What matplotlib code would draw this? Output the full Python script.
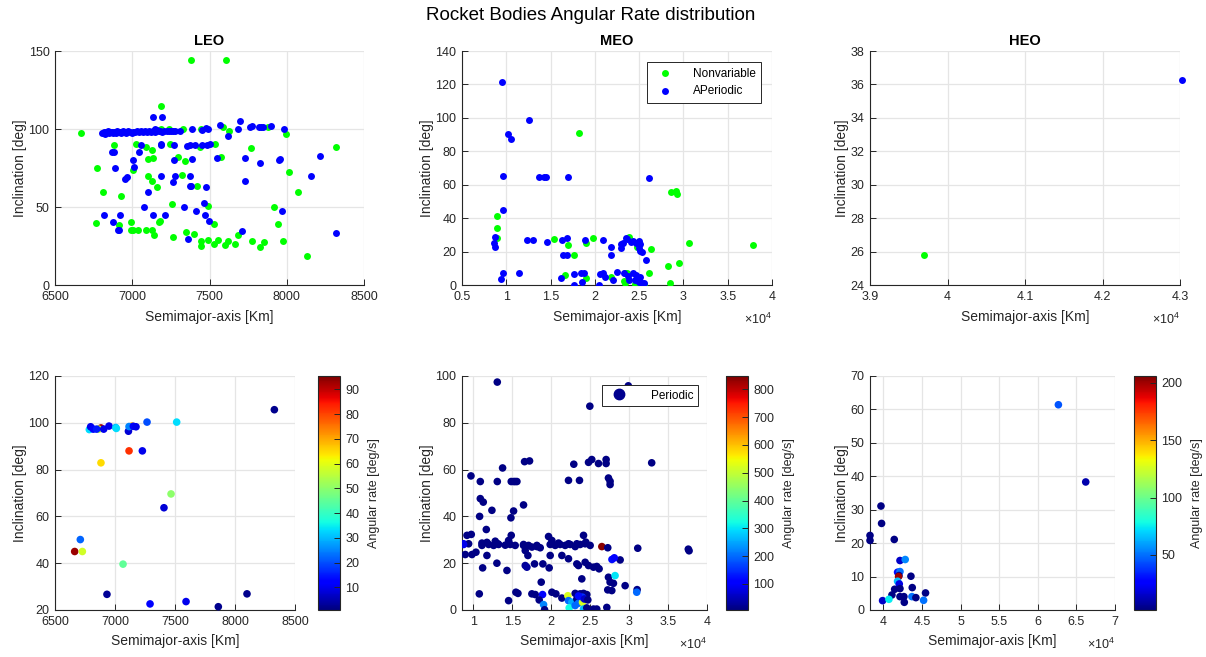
import matplotlib
matplotlib.use("Agg")
import matplotlib.pyplot as plt
from matplotlib.lines import Line2D
from matplotlib.ticker import FuncFormatter
import numpy as np

plt.rcParams["font.family"] = ["Liberation Sans", "DejaVu Sans"]
plt.rcParams["mathtext.fontset"] = "custom"
plt.rcParams["mathtext.rm"] = "Liberation Sans"
plt.rcParams["mathtext.it"] = "Liberation Sans:italic"

# ---------------- data: (semimajor axis [km], inclination [deg]) ----------------
LEO_NONVARIABLE = [
    (7380, 144.5), (7607, 144.5), (7188, 115.0), (6668, 97.2), (6770, 75.0), (6813, 59.6),
    (6765, 39.6), (6880, 89.8), (6925, 57.1), (6916, 38.2), (6990, 40.3), (6990, 35.4),
    (7007, 35.4), (7035, 35.4), (7007, 73.7), (7024, 90.2), (7087, 35.4), (7087, 88.7),
    (7104, 69.9), (7104, 80.6), (7126, 86.5), (7130, 35.4), (7136, 81.6), (7130, 66.9),
    (7143, 32.0), (7158, 63.0), (7175, 40.6), (7180, 41.2), (7188, 99.8), (7244, 90.4),
    (7238, 100.2), (7255, 51.9), (7261, 30.6), (7296, 82.2), (7326, 99.8), (7320, 70.2),
    (7341, 79.7), (7346, 34.2), (7398, 32.5), (7417, 63.4), (7445, 28.4), (7445, 25.2),
    (7445, 99.8), (7438, 88.5), (7492, 28.6), (7492, 50.4), (7527, 26.5), (7531, 39.4),
    (7535, 90.4), (7557, 29.0), (7572, 82.3), (7589, 101.1), (7600, 25.4), (7618, 28.4),
    (7628, 98.9), (7665, 26.5), (7686, 32.1), (7766, 88.0), (7773, 28.4), (7829, 24.2),
    (7853, 27.4), (7881, 101.5), (7917, 50.1), (7946, 39.2), (7974, 28.4), (7993, 96.6),
    (8016, 72.2), (8071, 59.4), (8129, 18.5), (8319, 88.6),
]

LEO_APERIODIC = [
    (6805, 97.5), (6815, 98.2), (6822, 97.0), (6830, 97.8), (6840, 98.4), (6848, 97.3),
    (6858, 97.9), (6866, 98.3), (6875, 97.4), (6884, 98.0), (6893, 97.6), (6902, 98.4),
    (6912, 97.8), (6920, 98.2), (6930, 97.5), (6940, 98.6), (6950, 98.0), (6962, 97.7),
    (6972, 98.4), (6985, 98.1), (6996, 97.6), (7008, 98.3), (7020, 97.9), (7032, 98.5),
    (7045, 98.0), (7058, 98.7), (7070, 97.8), (7082, 98.4), (7095, 98.1), (7108, 98.8),
    (7120, 97.9), (7132, 98.5), (7145, 98.2), (7158, 99.2), (7170, 98.6), (7182, 98.9),
    (7195, 98.3), (7208, 98.8), (7222, 98.5), (7236, 98.9), (7250, 98.6), (7265, 99.0),
    (7277, 98.7),
    (7132, 107.9), (7195, 107.9), (7150, 99.8), (7309, 98.9), (7389, 99.8), (7449, 99.4),
    (7475, 100.4), (7492, 99.8), (7568, 102.6), (7622, 95.6), (7686, 99.8), (7700, 105.4),
    (7762, 101.3), (7773, 101.8), (7820, 101.0), (7833, 101.6), (7848, 101.3), (7898, 101.8),
    (7980, 99.8),
    (6880, 85.5), (6870, 85.2), (7055, 89.7), (7186, 89.7), (7186, 90.5), (7270, 89.7),
    (7352, 89.0), (7374, 89.7), (7406, 90.0), (7449, 90.0), (7481, 90.0), (7503, 90.2),
    (7003, 80.1), (7011, 75.8), (7044, 85.5), (6888, 74.8), (7272, 80.0), (7385, 80.5),
    (7550, 81.4), (7730, 81.4), (7829, 78.5), (7952, 80.0), (7956, 81.0), (8217, 82.7),
    (6964, 69.4), (6953, 67.7), (7266, 66.3), (7277, 69.9), (7372, 69.9), (7380, 63.5),
    (7372, 63.5), (7475, 63.1), (7186, 69.9), (7100, 59.4), (7078, 50.0), (7132, 44.7),
    (7212, 44.7), (7337, 49.8), (7411, 47.4), (7464, 52.4), (7471, 44.7), (7497, 41.2),
    (7359, 29.8), (7708, 34.4), (7730, 66.7), (7971, 47.6), (8157, 69.9), (8319, 33.3),
    (6815, 44.9), (6923, 44.9), (6877, 40.1), (6905, 35.4), (6914, 35.4),
]

MEO_NONVARIABLE = [
    (18170, 90.7), (8930, 41.0), (8900, 34.3), (9000, 27.9), (15440, 27.7), (16990, 24.1),
    (17600, 17.7), (19000, 24.9), (19790, 27.9), (21830, 4.6), (23800, 28.5), (24740, 22.5),
    (26300, 21.7), (26070, 7.0), (28220, 11.4), (29550, 13.0), (30680, 25.1), (37870, 23.7),
    (28520, 1.4), (16650, 6.0), (19000, 4.0), (23400, 7.0), (23600, 7.0), (23300, 2.6),
    (23400, 1.0), (24550, 0.6), (25600, 0.6), (28570, 55.5), (29140, 56.3), (29220, 54.7),
]

MEO_APERIODIC = [
    (9540, 121.2), (12600, 98.7), (10150, 90.5), (10560, 87.3), (9580, 65.5), (9580, 45.0),
    (13700, 64.5), (14300, 64.5), (14500, 64.5), (17000, 64.5), (26110, 63.9),
    (8670, 28.9), (8630, 24.9), (8670, 22.5), (9580, 7.0), (9390, 3.4), (11390, 7.4),
    (12300, 27.1), (13000, 26.9), (14640, 25.5), (16270, 26.7), (16880, 28.1), (16420, 17.7),
    (16910, 17.7), (16160, 4.4), (17670, 6.8), (17670, 0.2), (18390, 7.4), (18800, 7.4),
    (18580, 1.6), (18840, 26.7), (20580, 6.8), (20880, 7.0), (20500, 0.2), (20880, 26.7),
    (21190, 5.0), (21870, 22.7), (21870, 17.7), (22100, 3.2), (22550, 7.6), (22930, 21.9),
    (23000, 24.3), (23230, 25.3), (23530, 28.3), (23680, 27.5), (23340, 7.0), (23720, 5.4),
    (24100, 25.7), (24300, 26.3), (24600, 25.1), (24970, 26.3), (25050, 24.3), (24930, 21.9),
    (25100, 20.3), (25270, 19.5), (25760, 14.8), (23840, 3.0), (24300, 7.0), (24670, 6.0),
    (24480, 3.0), (25050, 4.6), (24970, 2.0), (25350, 1.4), (25570, 1.0),
]

HEO_NONVARIABLE = [(39700, 25.8)]
HEO_APERIODIC = [(43020, 36.25)]

# periodic objects: (semimajor axis [km], inclination [deg], angular rate [deg/s])
LEO_PERIODIC = [
    (8328, 105.6, 2), (8100, 26.9, 2), (7861, 21.4, 2), (7592, 23.6, 10), (7292, 22.6, 12),
    (6933, 26.7, 3), (6664, 45.0, 93), (6728, 45.0, 58), (6711, 50.1, 22), (7067, 39.6, 45),
    (7467, 69.6, 50), (7408, 63.7, 8), (6883, 82.9, 65), (7117, 88.0, 82), (7228, 88.0, 10),
    (7514, 100.3, 33), (7267, 100.3, 20),
    (7142, 98.6, 70), (6883, 97.8, 92), (6864, 97.3, 55), (6786, 97.1, 33), (6797, 98.3, 10),
    (6819, 97.3, 12), (6847, 97.3, 15), (6906, 97.3, 10), (6950, 98.6, 10), (7006, 98.0, 30),
    (7011, 97.6, 33), (7112, 96.4, 8), (7117, 98.4, 25), (7153, 98.5, 12), (7175, 98.3, 10),
]

MEO_PERIODIC = [
    (26500, 27.1, 840),
    (13080, 97.4, 12), (24960, 87.1, 10), (29900, 95.8, 10),
    (9700, 57.3, 10), (10900, 54.9, 10), (13080, 54.9, 12), (13760, 60.7, 10), (14870, 54.9, 10),
    (15170, 54.9, 10), (15380, 54.9, 12), (15600, 54.9, 10),
    (10900, 47.6, 10), (11280, 46.1, 10), (10810, 40.0, 10), (12390, 42.6, 10), (15170, 42.3, 10),
    (14830, 39.4, 10), (16450, 44.9, 10), (11670, 34.4, 10),
    (16580, 63.4, 10), (17220, 63.7, 10), (22220, 55.4, 12), (23630, 55.4, 10), (22900, 62.3, 10),
    (24790, 63.1, 10), (25210, 64.3, 10), (26070, 62.6, 10), (27050, 64.3, 10), (27050, 62.6, 10),
    (27350, 56.4, 10), (27560, 55.0, 10), (27560, 53.6, 10), (32900, 62.9, 10),
    (37600, 26.0, 12), (37700, 25.3, 10), (31110, 26.4, 10), (29490, 10.4, 10), (31030, 8.7, 15),
    (30980, 7.6, 200), (28850, 21.4, 10), (27800, 21.6, 120), (28100, 22.3, 110),
    (8760, 28.3, 90), (9190, 31.9, 10), (9740, 32.3, 10), (9400, 28.3, 10),
    (8970, 23.7, 10), (9830, 23.7, 10), (10340, 24.7, 10),
    (11110, 28.6, 10), (11750, 28.9, 10), (12820, 29.4, 10), (13160, 28.3, 10), (14530, 29.7, 10),
    (14870, 31.9, 10), (16450, 28.0, 10), (17090, 27.6, 10), (18160, 27.6, 10), (19660, 31.4, 10),
    (20090, 29.7, 10), (20940, 28.6, 10), (22220, 28.3, 10), (23290, 28.3, 10), (24150, 31.9, 10),
    (24440, 29.0, 10), (27260, 26.6, 10),
    (11110, 27.6, 10), (11970, 28.0, 10), (12610, 27.6, 10), (13250, 28.0, 10), (14100, 27.7, 10),
    (14740, 28.0, 10), (15380, 27.6, 10),
    (11750, 23.3, 10), (11200, 18.0, 12), (13030, 20.0, 10), (14320, 16.9, 10),
    (16450, 27.6, 10), (16670, 25.4, 10), (17010, 23.3, 10), (17520, 26.9, 10), (18160, 27.1, 10),
    (18590, 26.6, 10), (16670, 19.0, 25), (16880, 18.3, 30), (17860, 19.7, 10), (18930, 19.7, 10),
    (19740, 18.0, 10),
    (19870, 28.0, 10), (20510, 27.6, 10), (21150, 28.0, 10), (21790, 27.6, 10), (22440, 28.0, 10),
    (23080, 27.1, 10), (23720, 28.0, 10), (24360, 28.3, 10), (25000, 27.6, 10),
    (19870, 23.3, 10), (21370, 23.3, 10), (22220, 21.9, 10), (23290, 19.7, 10), (23500, 19.0, 10),
    (24360, 20.4, 10), (24790, 19.0, 10), (25430, 18.3, 10), (25850, 18.6, 10), (26150, 17.6, 10),
    (27350, 14.0, 10), (27560, 11.9, 10), (27990, 11.4, 10), (28200, 14.7, 300), (27260, 8.6, 10),
    (27780, 8.3, 10), (18720, 11.9, 10), (23930, 13.3, 10),
    (10770, 6.9, 10), (14530, 4.0, 10), (15470, 7.6, 10), (15730, 7.1, 10), (17520, 6.9, 10),
    (17950, 6.6, 10), (18890, 6.6, 100), (18460, 4.3, 10), (19020, 2.3, 220), (19150, 0.1, 10),
    (20090, 7.6, 10), (20600, 6.9, 10), (21370, 5.1, 10), (22140, 6.1, 520), (22220, 4.0, 200),
    (22650, 3.3, 250), (22310, 0.9, 320), (23080, 7.1, 10), (23720, 6.9, 10), (24150, 7.1, 10),
    (24570, 6.6, 10), (23290, 4.7, 10), (23720, 4.0, 10), (23080, 1.9, 200), (23500, 2.9, 200),
    (24020, 3.3, 520), (24000, 5.5, 150), (23500, 6.0, 120), (24150, 0.4, 260), (24270, 4.7, 60),
    (24700, 4.3, 10), (24570, 0.9, 10), (25430, 0.4, 10), (25850, 0.4, 10), (27140, 1.1, 10),
    (8760, 28.0, 85),
]

HEO_PERIODIC = [
    (62670, 61.4, 45), (66210, 38.3, 10), (39700, 31.1, 3), (39780, 25.9, 3), (38280, 22.3, 3),
    (38280, 20.8, 3), (41420, 21.1, 3), (42160, 14.8, 15), (42840, 15.1, 55), (41850, 11.3, 30),
    (42160, 11.5, 50), (42030, 10.3, 5), (41980, 10.0, 200), (41850, 8.6, 65), (42070, 7.8, 20),
    (43580, 10.1, 3), (41470, 6.2, 3), (42160, 6.4, 3), (43750, 6.7, 3), (45470, 5.1, 3),
    (41120, 4.5, 3), (42160, 4.0, 3), (42670, 4.0, 3), (43710, 4.0, 50), (44220, 3.7, 3),
    (42720, 2.3, 3), (39910, 2.8, 15), (40730, 3.2, 75), (45220, 2.9, 50),
]

# colour ranges of the angular-rate colour bars
LEO_CLIM = (0.8, 95.4)
MEO_CLIM = (6.0, 848.0)
HEO_CLIM = (2.0, 206.0)

# ---------------- styling ----------------
TXT = "#262626"
GRID = "#e5e5e5"
GREEN = "#00ff00"
BLUE = "#0000ff"
NAVY = "#00008f"
W, H = 1206, 657

fig = plt.figure(figsize=(W / 100, H / 100), dpi=100)


def box(x0, x1, y0, y1):
    return fig.add_axes([x0 / W, 1 - y1 / H, (x1 - x0) / W, (y1 - y0) / H])


def style(ax, xlim, ylim, xticks, yticks, sci=False):
    ax.set_xlim(xlim)
    ax.set_ylim(ylim)
    ax.set_xticks(xticks)
    ax.set_yticks(yticks)
    for s in ("top", "right"):
        ax.spines[s].set_visible(False)
    for s in ("left", "bottom"):
        ax.spines[s].set_color(TXT)
        ax.spines[s].set_linewidth(0.8)
    ax.tick_params(direction="in", length=4, width=0.7, colors=TXT, labelsize=9, pad=4)
    ax.grid(True, color=GRID, linewidth=0.9)
    ax.set_axisbelow(True)
    if sci:
        ax.xaxis.set_major_formatter(FuncFormatter(lambda v, p: f"{round(v / 1e4, 6):g}"))
        ax.text(1.0, -0.145, r"$\times10^{4}$", transform=ax.transAxes, ha="right",
                va="center", fontsize=9, color=TXT)
    ax.set_xlabel("Semimajor-axis [Km]", fontsize=10, color=TXT, labelpad=5)
    ax.set_ylabel("Inclination [deg]", fontsize=10, color=TXT, labelpad=1)


def xy(points):
    arr = np.array(points, dtype=float)
    return arr[:, 0], arr[:, 1]


def colorbar(sc, cax, ticks):
    cb = fig.colorbar(sc, cax=cax)
    cb.set_ticks(ticks)
    cb.outline.set_edgecolor(TXT)
    cb.outline.set_linewidth(0.8)
    cax.tick_params(direction="in", length=4, width=0.7, colors=TXT, labelsize=9, pad=4)
    cb.set_label("Angular rate [deg/s]", fontsize=9, color=TXT, labelpad=6)
    return cb


S_TOP = 25
S_BOT = 30

# ---- top row: nonvariable / aperiodic ----
ax = box(55, 364, 51, 285)
ax.scatter(*xy(LEO_NONVARIABLE), s=S_TOP, color=GREEN, linewidths=0, zorder=3)
ax.scatter(*xy(LEO_APERIODIC), s=S_TOP, color=BLUE, linewidths=0, zorder=3)
style(ax, (6500, 8500), (0, 150), np.arange(6500, 8501, 500), np.arange(0, 151, 50))
ax.set_title("LEO", fontsize=10.5, fontweight="bold", color="black", pad=4)

ax = box(462, 772, 51, 285)
ax.scatter(*xy(MEO_NONVARIABLE), s=S_TOP, color=GREEN, linewidths=0, zorder=3, label="Nonvariable")
ax.scatter(*xy(MEO_APERIODIC), s=S_TOP, color=BLUE, linewidths=0, zorder=3, label="APeriodic")
style(ax, (5000, 40000), (0, 140), np.arange(5000, 40001, 5000), np.arange(0, 141, 20), sci=True)
ax.set_title("MEO", fontsize=10.5, fontweight="bold", color="black", pad=4)
leg = ax.legend(loc="upper right", fontsize=8.5, frameon=True, fancybox=False, framealpha=1,
                edgecolor=TXT, borderaxespad=0.9, handletextpad=1.2, labelspacing=0.45,
                borderpad=0.5, handlelength=2.2)
leg.get_frame().set_linewidth(0.7)

ax = box(870, 1180, 51, 285)
ax.scatter(*xy(HEO_NONVARIABLE), s=S_TOP, color=GREEN, linewidths=0, zorder=3, clip_on=False)
ax.scatter(*xy(HEO_APERIODIC), s=S_TOP, color=BLUE, linewidths=0, zorder=3, clip_on=False)
style(ax, (39000, 43000), (24, 38), np.arange(39000, 43001, 1000), np.arange(24, 39, 2), sci=True)
ax.set_title("HEO", fontsize=10.5, fontweight="bold", color="black", pad=4)


# ---- bottom row: periodic, coloured by angular rate ----
def periodic(ax, pts, clim):
    arr = np.array(pts, dtype=float)
    return ax.scatter(arr[:, 0], arr[:, 1], c=arr[:, 2], cmap="jet", vmin=clim[0], vmax=clim[1],
                      s=S_BOT, linewidths=0, zorder=3, clip_on=False)


ax = box(55, 295, 376, 610)
sc = periodic(ax, LEO_PERIODIC, LEO_CLIM)
style(ax, (6500, 8500), (20, 120), np.arange(6500, 8501, 500), np.arange(20, 121, 20))
colorbar(sc, box(318, 340, 376, 610), np.arange(10, 91, 10))

ax = box(462, 707, 376, 610)
sc = periodic(ax, MEO_PERIODIC, MEO_CLIM)
sc.set_clip_on(True)
style(ax, (8550, 40000), (0, 100), np.arange(10000, 40001, 5000), np.arange(0, 101, 20), sci=True)
handle = Line2D([], [], linestyle="none", marker="o", markersize=7.5, color=NAVY)
leg = ax.legend([handle], ["Periodic"], loc="upper right", fontsize=8.5, frameon=True,
                fancybox=False, framealpha=1, edgecolor=TXT, borderaxespad=0.8,
                handletextpad=1.6, borderpad=0.35, handlelength=2.2)
leg.get_frame().set_linewidth(0.7)
colorbar(sc, box(726, 748, 376, 610), np.arange(100, 801, 100))

ax = box(870, 1115, 376, 610)
sc = periodic(ax, HEO_PERIODIC, HEO_CLIM)
style(ax, (38280, 70000), (0, 70), np.arange(40000, 70001, 5000), np.arange(0, 71, 10), sci=True)
colorbar(sc, box(1134, 1156, 376, 610), [50, 100, 150, 200])

fig.text(591 / W, 1 - 15 / H, "Rocket Bodies Angular Rate distribution", ha="center", va="center",
         fontsize=13.5, color="black")

fig.savefig("out.png", dpi=100)
